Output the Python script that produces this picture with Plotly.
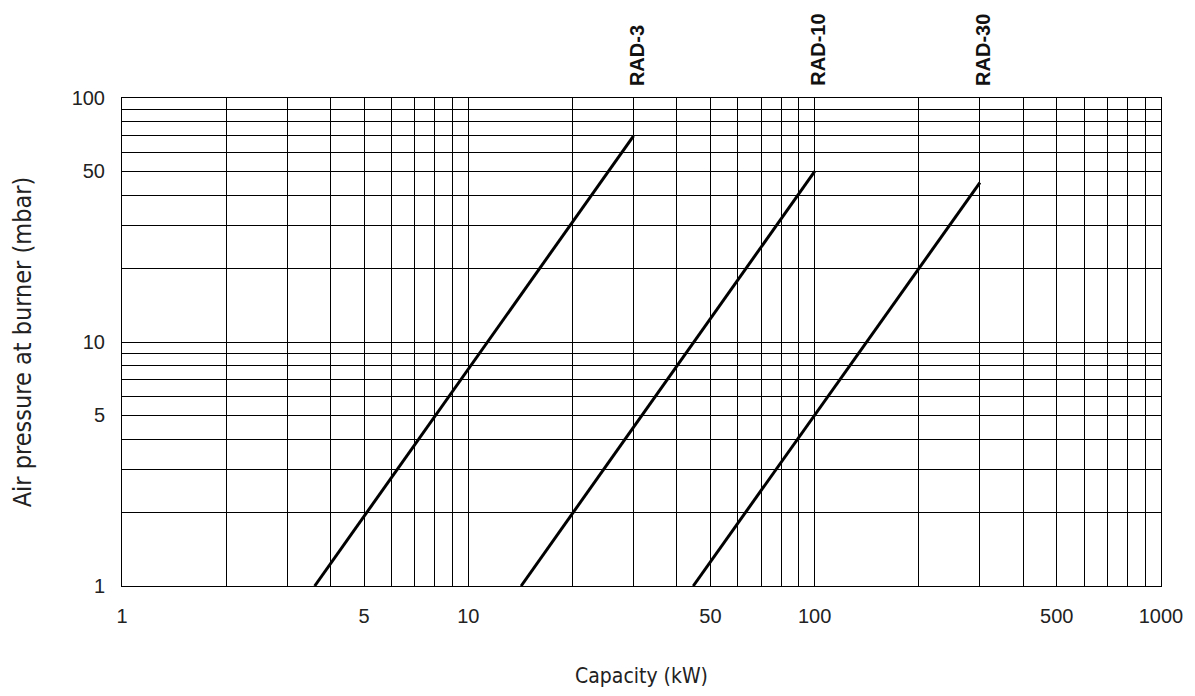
import math
import plotly.graph_objects as go

# Data (log-log, pressure ~ capacity^2)
models = ["RAD-3", "RAD-10", "RAD-30"]
capacity_kw = {
    "RAD-3": [3.6, 30],
    "RAD-10": [14.2, 100],
    "RAD-30": [44.6, 300],
}
pressure_mbar = {
    "RAD-3": [1, 70],
    "RAD-10": [1, 50],
    "RAD-30": [1, 45],
}
label_x = [30, 100, 300]

x_grid = [m * 10 ** e for e in range(3) for m in range(1, 10)] + [1000]
x_labels = {1: "1", 5: "5", 10: "10", 50: "50", 100: "100", 500: "500", 1000: "1000"}
y_grid = [m * 10 ** e for e in range(2) for m in range(1, 10)] + [100]
y_labels = {1: "1", 5: "5", 10: "10", 50: "50", 100: "100"}

fig = go.Figure()
for m in models:
    fig.add_trace(go.Scatter(
        x=capacity_kw[m], y=pressure_mbar[m], mode="lines",
        line=dict(color="black", width=3), showlegend=False, name=m,
    ))

for name, xv in zip(models, label_x):
    fig.add_annotation(
        x=math.log10(xv), y=1, xref="x", yref="paper", text="<b>" + name + "</b>",
        textangle=-90, showarrow=False, xanchor="center", yanchor="bottom",
        yshift=10, xshift=3,
        font=dict(family="Liberation Sans, Arial", size=20, color="#111"),
    )

tick_font = dict(family="Liberation Sans, Arial", size=20, color="#222")
title_family = "DejaVu Sans Condensed, Liberation Sans Narrow, Arial Narrow"

fig.update_layout(
    width=1187, height=688,
    margin=dict(l=114, r=32, t=90, b=110),
    paper_bgcolor="white", plot_bgcolor="white",
    xaxis=dict(
        type="log", range=[0, 3],
        tickmode="array", tickvals=x_grid,
        ticktext=[x_labels.get(v, "") for v in x_grid],
        showgrid=True, gridcolor="black", gridwidth=1,
        showline=True, linecolor="black", linewidth=1, mirror=True,
        ticks="outside", ticklen=12, tickcolor="rgba(0,0,0,0)",
        tickfont=tick_font, zeroline=False,
        title=dict(text="Capacity (kW)", font=dict(family=title_family, size=21, color="#222"), standoff=42),
    ),
    yaxis=dict(
        type="log", range=[0, 2],
        tickmode="array", tickvals=y_grid,
        ticktext=[y_labels.get(v, "") for v in y_grid],
        showgrid=True, gridcolor="black", gridwidth=1,
        showline=True, linecolor="black", linewidth=1, mirror=True,
        ticks="outside", ticklen=12, tickcolor="rgba(0,0,0,0)",
        tickfont=tick_font, zeroline=False,
        title=dict(text="Air pressure at burner (mbar)", font=dict(family=title_family, size=25, color="#222"), standoff=34),
    ),
)

fig.write_html("out.html")
